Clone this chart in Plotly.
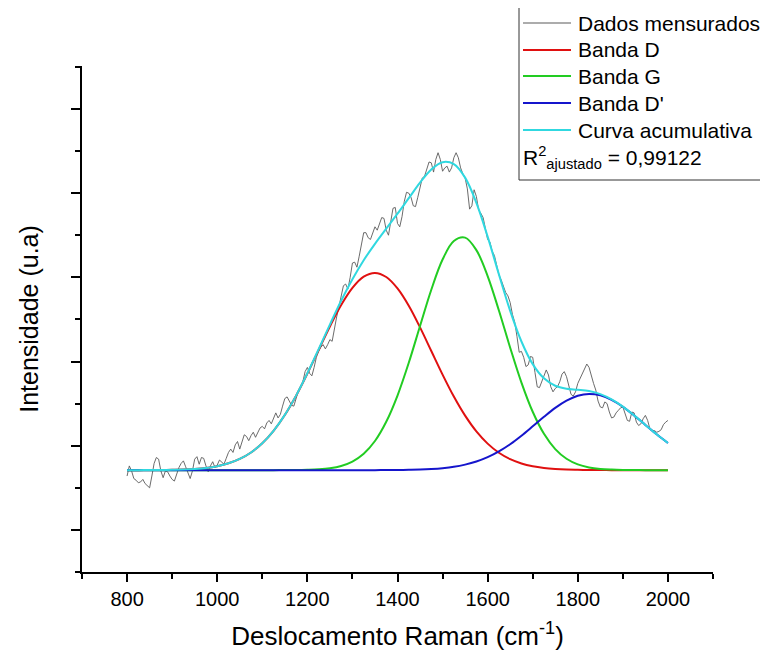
import plotly.graph_objects as go

# ---------------- data ----------------
# measured spectrum (Raman shift, intensity), every 5 cm-1
x_data = list(range(800, 2001, 5))
y_data = [640, 760, 700, 610, 590, 560, 570, 600, 550, 520,
          500, 640, 790, 860, 840, 700, 620, 700, 690, 640,
          600, 580, 660, 740, 790, 820, 750, 680, 610, 700,
          840, 870, 780, 860, 850, 760, 690, 760, 810, 740,
          770, 830, 800, 780, 850, 920, 960, 920, 1010, 1050,
          960, 1040, 1130, 1110, 1060, 1120, 1160, 1100, 1150, 1210,
          1230, 1200, 1270, 1300, 1260, 1320, 1390, 1330, 1370, 1470,
          1560, 1580, 1530, 1480, 1470, 1560, 1650, 1700, 1760, 1880,
          1930, 1860, 1830, 1930, 2050, 2120, 2170, 2200, 2150, 2200,
          2260, 2240, 2400, 2530, 2650, 2780, 2900, 2920, 2860, 3000,
          3170, 3180, 3120, 3250, 3400, 3530, 3530, 3470, 3450, 3520,
          3600, 3560, 3650, 3710, 3700, 3560, 3500, 3650, 3820, 3830,
          3640, 3600, 3720, 3900, 4010, 4000, 3950, 3850, 3840, 3950,
          4080, 4180, 4200, 4300, 4370, 4360, 4250, 4400, 4480, 4400,
          4260, 4300, 4320, 4250, 4300, 4420, 4480, 4420, 4300, 4230,
          4180, 4050, 3810, 3850, 4040, 3960, 3800, 3760, 3710, 3580,
          3450, 3420, 3310, 3260, 3150, 3030, 2970, 2900, 2820, 2780,
          2700, 2560, 2470, 2300, 2110, 2120, 2050, 1940, 1960, 2060,
          2050, 1870, 1700, 1690, 1760, 1850, 1900, 1840, 1700, 1640,
          1680, 1700, 1760, 1850, 1880, 1820, 1700, 1610, 1590, 1640,
          1740, 1800, 1850, 1930, 1970, 1930, 1820, 1740, 1660, 1530,
          1460, 1450, 1520, 1500, 1400, 1330, 1340, 1390, 1420, 1450,
          1460, 1380, 1300, 1290, 1400, 1390, 1280, 1240, 1260, 1320,
          1360, 1300, 1200, 1180, 1180, 1160, 1170, 1190, 1250, 1280,
          1300]

# fitted curves sampled every 25 cm-1
x_fit = list(range(800, 2001, 25))
band_d = [710, 710, 711, 712, 714, 717, 724, 736,
          757, 791, 843, 920, 1029, 1177, 1365, 1594,
          1856, 2136, 2416, 2671, 2875, 3008, 3052, 3004,
          2868, 2662, 2405, 2125, 1845, 1584, 1357, 1170,
          1025, 916, 840, 789, 756, 736, 724, 717,
          714, 712, 711, 710, 710, 710, 710, 710, 710]
band_g = [710, 710, 710, 710, 710, 710, 710, 710,
          710, 710, 710, 710, 710, 710, 711, 711,
          714, 720, 733, 760, 812, 905, 1056, 1284,
          1596, 1985, 2422, 2853, 3211, 3432, 3472, 3323,
          3015, 2606, 2164, 1750, 1403, 1141, 960, 845,
          778, 742, 724, 716, 712, 711, 710, 710, 710]
band_d2 = [710, 710, 710, 710, 710, 710, 710, 710,
           710, 710, 710, 710, 710, 710, 710, 710,
           710, 710, 710, 710, 710, 710, 710, 711,
           712, 714, 717, 723, 733, 749, 775, 812,
           864, 933, 1018, 1119, 1230, 1343, 1449, 1535,
           1593, 1615, 1598, 1545, 1463, 1359, 1247, 1135, 1032]
cumulative = [710, 710, 711, 712, 714, 717, 724, 736,
              757, 791, 843, 920, 1029, 1177, 1366, 1595,
              1860, 2146, 2439, 2721, 2977, 3203, 3398, 3578,
              3756, 3940, 4124, 4281, 4368, 4345, 4184, 3885,
              3483, 3035, 2602, 2238, 1969, 1800, 1712, 1677,
              1665, 1649, 1613, 1551, 1465, 1360, 1247, 1135, 1032]

names = ["Dados mensurados", "Banda D", "Banda G", "Banda D'", "Curva acumulativa"]
colors = ["#5a5a5a", "#e01010", "#22cc22", "#1515cc", "#30d8e0"]
r2_text = "R<sup>2</sup><sub>ajustado</sub> = 0,99122"

FONT = "Liberation Sans, Arial, sans-serif"

fig = go.Figure()
fig.add_trace(go.Scatter(x=x_data, y=y_data, mode="lines", name=names[0],
                         line=dict(color=colors[0], width=0.9)))
for yy, nm, col in [(band_d, names[1], colors[1]), (band_g, names[2], colors[2]),
                    (band_d2, names[3], colors[3]), (cumulative, names[4], colors[4])]:
    fig.add_trace(go.Scatter(x=x_fit, y=yy, mode="lines", name=nm,
                             line=dict(color=col, width=2, shape="spline")))

# the page adds an 8 px body margin, so the figure is 8 px smaller
OFF = 8
W, H = 768 - OFF, 655 - OFF
# plot-area edges in page pixels
PL, PR, PT, PB = 82, 713, 66, 572
L, R_, T, B = PL - OFF, PR - OFF, PT - OFF, PB - OFF
def px(v):  # page x -> paper
    return (v - OFF - L) / (R_ - L)
def py(v):  # page y -> paper
    return (B - (v - OFF)) / (B - T)

fig.update_layout(
    width=W, height=H,
    margin=dict(l=L, r=W - R_, t=T, b=H - B),
    paper_bgcolor="white", plot_bgcolor="white",
    font=dict(family=FONT, color="black"),
    showlegend=False,
    xaxis=dict(range=[700, 2100], tickmode="linear", tick0=800, dtick=200,
               ticks="outside", ticklen=8, tickwidth=2, tickcolor="black",
               showline=True, linecolor="black", linewidth=2,
               showgrid=False, zeroline=False, automargin=False,
               tickfont=dict(size=20, family=FONT),
               minor=dict(ticks="outside", ticklen=5, tickwidth=2, tickcolor="black",
                          tick0=700, dtick=100, showgrid=False),
               title=dict(text="Deslocamento Raman (cm<sup>-1</sup>)",
                          font=dict(size=26, family=FONT), standoff=18)),
    yaxis=dict(range=[-500, 5510], tickmode="linear", tick0=0, dtick=1000,
               ticks="outside", ticklen=9, tickwidth=2, tickcolor="black",
               showticklabels=False, automargin=False,
               showline=True, linecolor="black", linewidth=2,
               showgrid=False, zeroline=False,
               minor=dict(ticks="outside", ticklen=5, tickwidth=2, tickcolor="black",
                          tick0=500, dtick=1000, showgrid=False),
               title=dict(text="Intensidade (u.a)",
                          font=dict(size=25, family=FONT), standoff=25)),
)

# legend drawn as a framed key
fig.add_shape(type="rect", xref="paper", yref="paper",
              x0=px(519), x1=px(765), y0=py(180), y1=py(7),
              line=dict(color="#333333", width=1), fillcolor="rgba(0,0,0,0)")
rows = [23, 50, 76, 103, 130]
for nm, col, yrow in zip(names, colors, rows):
    fig.add_shape(type="line", xref="paper", yref="paper",
                  x0=px(523), x1=px(571), y0=py(yrow), y1=py(yrow),
                  line=dict(color=col, width=2 if nm != names[0] else 1.2))
    fig.add_annotation(text=nm, xref="paper", yref="paper",
                       x=px(576), y=py(yrow), xanchor="left", yanchor="middle",
                       showarrow=False, font=dict(size=21, family=FONT))
fig.add_annotation(text=r2_text, xref="paper", yref="paper",
                   x=px(521), y=py(158), xanchor="left", yanchor="middle",
                   showarrow=False, font=dict(size=21, family=FONT))

fig.write_html("out.html")
